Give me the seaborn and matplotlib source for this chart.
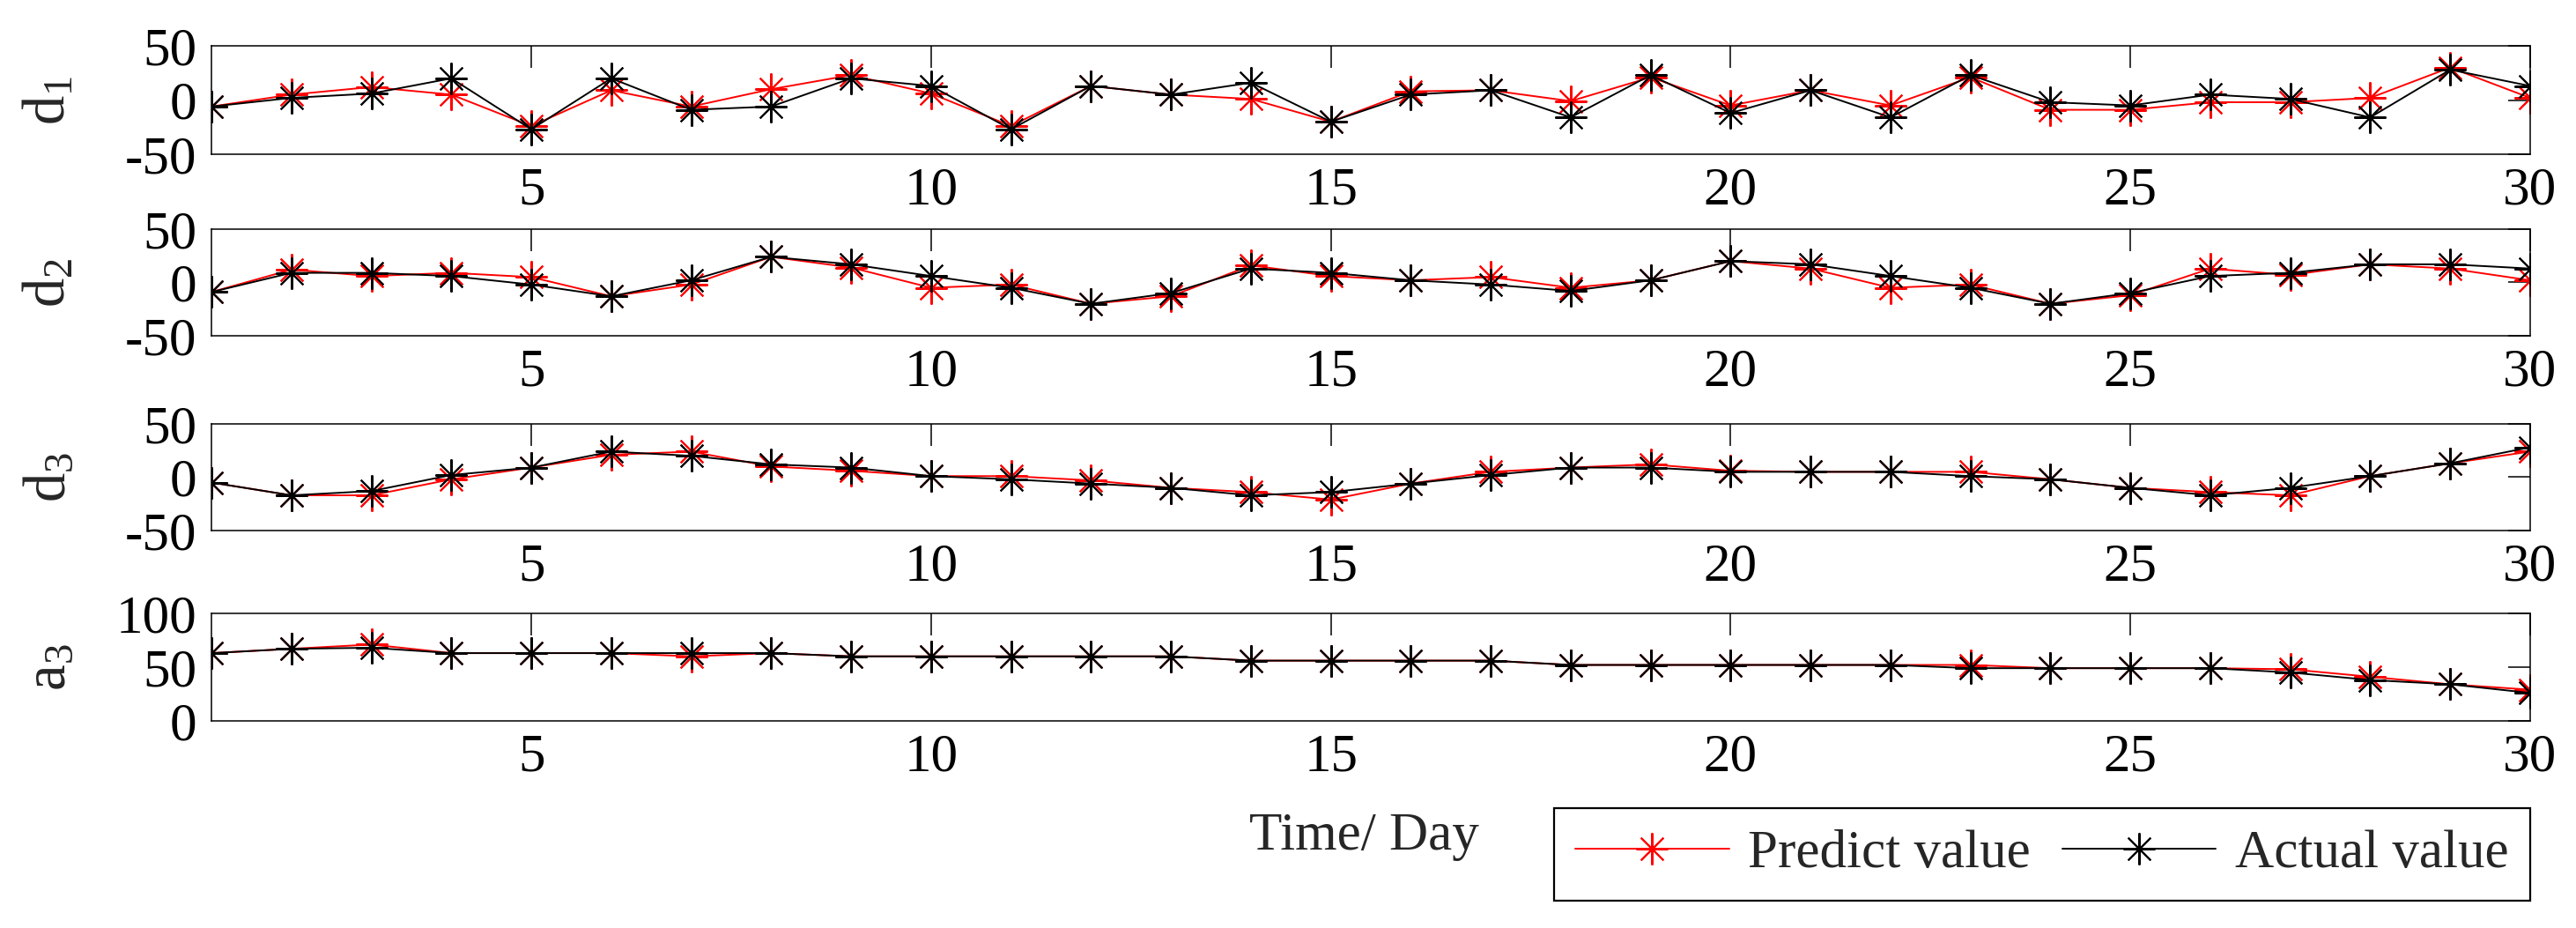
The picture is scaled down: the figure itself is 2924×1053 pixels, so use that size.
import matplotlib
matplotlib.use("Agg")
import matplotlib.pyplot as plt
import seaborn as sns

# values
days = list(range(1, 31))

d1_actual = [-6, 2, 6, 20, -27, 20, -9, -6, 20, 13, -27, 13, 5, 16, -20,
             5, 9, -16, 23, -12, 9, -16, 23, -2, -5, 5, 1, -16, 28, 13]
d1_pred = [-6, 5, 12, 5, -24, 9, -6, 10, 23, 6, -24, 13, 5, 1, -20,
           8, 9, -1, 21, -5, 9, -5, 21, -9, -9, -2, -2, 2, 30, 2]

d2_actual = [-9, 9, 9, 6, -2, -13, 2, 24, 17, 6, -5, -20, -10, 13, 9,
             2, -2, -8, 2, 20, 17, 6, -5, -20, -10, 6, 9, 17, 17, 13]
d2_pred = [-9, 12, 6, 9, 5, -13, -2, 24, 14, -5, -2, -20, -13, 16, 6,
           2, 5, -5, 2, 20, 13, -5, -2, -20, -12, 13, 7, 17, 13, 2]

d3_actual = [-5, -17, -13, 2, 9, 24, 20, 12, 9, 1, -2, -6, -10, -17, -14,
             -6, 2, 9, 9, 5, 5, 5, 1, -2, -10, -17, -10, 1, 13, 28]
d3_pred = [-5, -17, -17, -2, 9, 21, 24, 10, 6, 1, 1, -3, -10, -14, -21,
           -6, 5, 9, 12, 6, 5, 5, 5, -2, -10, -14, -17, 1, 13, 24]

a3_actual = [63, 67, 68, 63, 63, 63, 63, 63, 60, 60, 60, 60, 60, 56, 56,
             56, 56, 52, 52, 52, 52, 52, 49, 49, 49, 49, 45, 38, 34, 26]
a3_pred = [63, 67, 71, 63, 63, 63, 60, 63, 60, 60, 60, 60, 60, 56, 56,
           56, 56, 52, 52, 52, 52, 52, 52, 49, 49, 49, 48, 41, 34, 29]

panel_labels = [r'$\mathrm{d}_1$', r'$\mathrm{d}_2$', r'$\mathrm{d}_3$', r'$\mathrm{a}_3$']
panel_yticks = [[-50, 0, 50], [-50, 0, 50], [-50, 0, 50], [0, 50, 100]]
x_ticks = [5, 10, 15, 20, 25, 30]

sns.set_style('white')
SERIF = ['Liberation Serif', 'DejaVu Serif']
plt.rcParams['font.family'] = SERIF
plt.rcParams['mathtext.fontset'] = 'custom'
plt.rcParams['mathtext.rm'] = 'Liberation Serif'
plt.rcParams['mathtext.it'] = 'Liberation Serif:italic'

FS = 44
star = (8, 2, 0)

fig = plt.figure(figsize=(29.24, 10.53), dpi=100)

# axes boxes in figure fractions (left, bottom, width, height)
boxes = [
    (0.0821, 0.8338, 0.9001, 0.1168),
    (0.0821, 0.6382, 0.9001, 0.1149),
    (0.0821, 0.4283, 0.9001, 0.1150),
    (0.0821, 0.2232, 0.9001, 0.1159),
]
series = [(d1_pred, d1_actual), (d2_pred, d2_actual),
          (d3_pred, d3_actual), (a3_pred, a3_actual)]

for i, (box, (pred, actual)) in enumerate(zip(boxes, series)):
    ax = fig.add_axes(box)
    sns.lineplot(x=days, y=pred, ax=ax, color='red', linewidth=1.4,
                 marker=star, markersize=26, markeredgewidth=1.5,
                 markeredgecolor='red', label='Predict value')
    sns.lineplot(x=days, y=actual, ax=ax, color='black', linewidth=1.4,
                 marker=star, markersize=26, markeredgewidth=1.5,
                 markeredgecolor='black', label='Actual value')
    ax.get_legend().remove()

    yt = panel_yticks[i]
    ax.set_xlim(1, 30)
    ax.set_ylim(yt[0], yt[-1])
    ax.set_xticks(x_ticks, labels=[str(v) for v in x_ticks],
                  fontsize=FS, fontfamily=SERIF)
    ax.set_yticks(yt, labels=[str(v) for v in yt],
                  fontsize=FS, fontfamily=SERIF)
    ax.tick_params(direction='in', length=18, width=1.1, top=True, right=True,
                   colors='black')
    ax.tick_params(axis='x', pad=10)
    ax.tick_params(axis='y', pad=12)
    for sp in ax.spines.values():
        sp.set_visible(True)
        sp.set_color('black')
        sp.set_linewidth(1.1)
    ax.set_ylabel(panel_labels[i], fontsize=48)
    ax.yaxis.set_label_coords(-0.058, 0.5)

    if i == 3:
        ax.set_xlabel('Time/ Day', fontsize=FS)
        ax.xaxis.label.set_va('baseline')
        ax.xaxis.set_label_coords(0.497, -1.2)
        handles, labels = ax.get_legend_handles_labels()

leg = fig.legend(handles, labels, loc='upper right', bbox_to_anchor=(0.9822, 0.1291),
                 ncol=2, fontsize=FS, frameon=True, fancybox=False, shadow=False,
                 framealpha=1, edgecolor='black', handlelength=2.85,
                 handletextpad=0.35, columnspacing=0.6, borderpad=0.4,
                 borderaxespad=0)
leg.get_frame().set_linewidth(1.6)

plt.savefig('out.png', dpi=100)
plt.close()
